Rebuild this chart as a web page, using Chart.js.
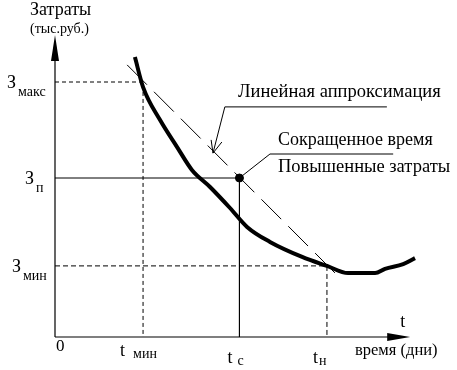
<!DOCTYPE html>
<html lang="ru">
<head>
<meta charset="utf-8">
<script src="https://cdn.jsdelivr.net/npm/chart.js@4.4.1/dist/chart.umd.min.js"></script>
<style>
html, body { margin: 0; padding: 0; background: #fff; }
#wrap { width: 457px; height: 370px; }
</style>
</head>
<body>
<div id="wrap"><canvas id="chart"></canvas></div>
<script>
// кривая затрат (время, затраты) в условных единицах 0..100
const CURVE_T = [21.6, 23.8, 28.4, 33.0, 37.0, 41.9, 47.3, 51.9, 58.1, 66.8, 73.5, 79.2, 86.5, 89.2, 94.1, 97.3];
const CURVE_Z = [93.3, 83.3, 72.3, 63.3, 55.7, 50.0, 43.0, 36.7, 31.7, 26.7, 23.7, 21.3, 21.3, 22.7, 24.3, 26.3];

// линейная аппроксимация
const APPROX_T = [19.5, 75.7];
const APPROX_Z = [90.7, 21.3];

// характерные точки
const T_MIN = 23.8, T_C = 49.85, T_H = 73.5;
const Z_MAX = 85, Z_P = 53, Z_MIN = 23.7;
const X_AXIS_END = 96;

// подписи осей
const Y_MARK = 'З';
const Y_SUBS = ['макс', 'п', 'мин'];
const X_MARK = 't';
const X_SUBS = ['мин', 'с', 'н'];
const ANNOT = ['Линейная аппроксимация', 'Сокращенное время', 'Повышенные затраты'];

// выноски
const LEAD1_T = [89.7, 45.9, 42.7];
const LEAD1_Z = [76.7, 76.7, 61.3];
const ARROW1_T = [42.2, 42.7, 45.1];
const ARROW1_Z = [65.7, 61.3, 65.0];
const LEAD2_T = [91.4, 58.1, T_C];
const LEAD2_Z = [61.0, 61.0, Z_P];

const FONT = '"Liberation Serif", "Times New Roman", serif';

function pts(xs, ys) {
    return xs.map((x, i) => ({ x, y: ys[i] }));
}

function seg(data, opts) {
    return Object.assign({
        data,
        borderColor: '#000',
        borderWidth: 1,
        pointRadius: 0,
        pointHoverRadius: 0,
        showLine: true,
        fill: false,
        clip: false,
    }, opts);
}

function txt(ctx, s, x, y, size, align) {
    ctx.font = size + 'px ' + FONT;
    ctx.textAlign = align || 'left';
    ctx.textBaseline = 'middle';
    ctx.fillText(s, x, y);
}

// оси со стрелками и надписи
const decorPlugin = {
    id: 'decor',
    afterDatasetsDraw(chart) {
        const { ctx, chartArea } = chart;
        const sx = chart.scales.x, sy = chart.scales.y;
        const x0 = chartArea.left, y0 = chartArea.bottom;
        const yTop = chartArea.top - 2;
        const xEnd = sx.getPixelForValue(X_AXIS_END);

        ctx.save();
        ctx.strokeStyle = '#000';
        ctx.fillStyle = '#000';
        ctx.lineWidth = 1.2;
        ctx.beginPath();
        ctx.moveTo(x0, y0);
        ctx.lineTo(x0, yTop + 20);
        ctx.moveTo(x0, y0);
        ctx.lineTo(xEnd - 18, y0);
        ctx.stroke();

        // стрелка оси Y
        ctx.beginPath();
        ctx.moveTo(x0, yTop);
        ctx.lineTo(x0 - 4, yTop + 26);
        ctx.lineTo(x0 + 4, yTop + 26);
        ctx.closePath();
        ctx.fill();
        // стрелка оси X
        ctx.beginPath();
        ctx.moveTo(xEnd, y0);
        ctx.lineTo(xEnd - 23, y0 - 4);
        ctx.lineTo(xEnd - 23, y0 + 4);
        ctx.closePath();
        ctx.fill();

        // ось Y
        txt(ctx, 'Затраты', 30, 10, 18);
        txt(ctx, '(тыс.руб.)', 30, 29, 14);
        const ys = [Z_MAX, Z_P, Z_MIN].map(v => sy.getPixelForValue(v));
        const zx = [7, 25, 12];
        ys.forEach((py, i) => {
            txt(ctx, Y_MARK, zx[i], py + 1, 18);
            txt(ctx, Y_SUBS[i], zx[i] + 11, py + 10, 14);
        });

        // ось X
        txt(ctx, '0', x0 + 1, y0 + 10, 17);
        const xs = [T_MIN, T_C, T_H].map(v => sx.getPixelForValue(v));
        const tdx = [-23, -12, -14];
        const tdy = [14, 21, 21];
        const sdx = [13, 10, 6];
        xs.forEach((px, i) => {
            txt(ctx, X_MARK, px + tdx[i], y0 + tdy[i], 18);
            txt(ctx, X_SUBS[i], px + tdx[i] + sdx[i], y0 + tdy[i] + 3, 14);
        });
        txt(ctx, 't', xEnd - 10, y0 - 15, 18);
        txt(ctx, 'время (дни)', 355, y0 + 14, 16.5);

        // выноски
        txt(ctx, ANNOT[0], 238, 92, 18.5);
        txt(ctx, ANNOT[1], 278, 140, 18);
        txt(ctx, ANNOT[2], 278, 167, 18.5);
        ctx.restore();
    }
};

const ctx = document.getElementById('chart').getContext('2d');
new Chart(ctx, {
    type: 'scatter',
    data: {
        datasets: [
            // вспомогательные линии
            seg([{ x: 0, y: Z_MAX }, { x: T_MIN, y: Z_MAX }, { x: T_MIN, y: 0 }], { borderDash: [4, 3] }),
            seg([{ x: 0, y: Z_MIN }, { x: T_H, y: Z_MIN }, { x: T_H, y: 0 }], { borderDash: [5, 3] }),
            seg([{ x: 0, y: Z_P }, { x: T_C, y: Z_P }, { x: T_C, y: 0 }], {}),
            seg(pts(APPROX_T, APPROX_Z), { borderDash: [28, 10] }),
            seg(pts(LEAD1_T, LEAD1_Z), {}),
            seg(pts(ARROW1_T, ARROW1_Z), {}),
            seg(pts(LEAD2_T, LEAD2_Z), {}),
            seg(pts(CURVE_T, CURVE_Z), { borderWidth: 4, cubicInterpolationMode: 'monotone', borderJoinStyle: 'round' }),
            {
                data: [{ x: T_C, y: Z_P }],
                pointRadius: 4,
                pointHoverRadius: 4,
                borderWidth: 1,
                pointBackgroundColor: '#000',
                pointBorderColor: '#000',
                showLine: false,
                clip: false,
            },
        ]
    },
    options: {
        responsive: true,
        maintainAspectRatio: false,
        animation: false,
        events: [],
        layout: { padding: { left: 55, right: 32, top: 37, bottom: 33 } },
        plugins: {
            legend: { display: false },
            tooltip: { enabled: false },
        },
        scales: {
            x: { type: 'linear', min: 0, max: 100, display: false },
            y: { type: 'linear', min: 0, max: 100, display: false },
        }
    },
    plugins: [decorPlugin]
});
</script>
</body>
</html>
